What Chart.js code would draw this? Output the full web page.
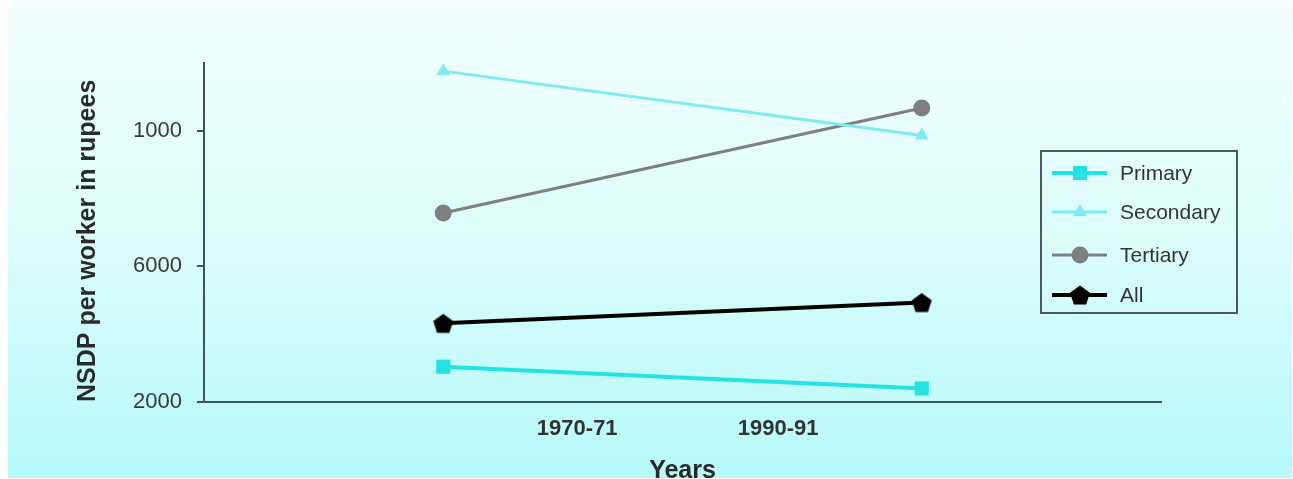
<!DOCTYPE html>
<html>
<head>
<meta charset="utf-8">
<script src="https://cdn.jsdelivr.net/npm/chart.js@4/dist/chart.umd.min.js"></script>
<style>
  html, body { margin: 0; padding: 0; background: #ffffff; }
  #wrap { position: absolute; left: 8px; top: 0; width: 1284px; height: 478px;
          background: linear-gradient(to bottom, #f4ffff 0%, #dcfcfc 50%, #b6fafa 100%); }
  canvas { display: block; }
</style>
</head>
<body>
<div id="wrap"><canvas id="c" width="1284" height="478"></canvas></div>
<script>
// ---- data ----
const categories = ['1970-71', '1990-91'];
const categoryX = [25, 75];            // where the points sit on the x scale
const xTickPositions = [39, 60];       // where the year labels sit on the x scale
const xTickLabels = ['1970-71', '1990-91'];
const yTickValues = [2000, 6000, 10000];
const yTickLabels = ['2000', '6000', '1000'];
const seriesNames = ['Primary', 'Secondary', 'Tertiary', 'All'];
const primary = [3040, 2400];
const secondary = [11760, 9860];
const tertiary = [7575, 10670];
const all = [4320, 4935];

// pentagon marker
function makePentagon(size, color) {
  const c = document.createElement('canvas');
  c.width = size; c.height = size;
  const g = c.getContext('2d');
  const r = size / 2 - 0.5, cx = size / 2, cy = size / 2 + 1;
  g.beginPath();
  for (let i = 0; i < 5; i++) {
    const a = -Math.PI / 2 + i * 2 * Math.PI / 5;
    const px = cx + r * Math.cos(a), py = cy + r * Math.sin(a);
    if (i === 0) g.moveTo(px, py); else g.lineTo(px, py);
  }
  g.closePath();
  g.fillStyle = color; g.fill();
  return c;
}
const pentagon = makePentagon(22, '#000000');

function pts(vals) { return vals.map((v, i) => ({ x: categoryX[i], y: v })); }

const FONT = "'Liberation Sans', Arial, sans-serif";

const legendPlugin = {
  id: 'customLegend',
  afterDraw(chart) {
    const ctx = chart.ctx;
    const box = { x: 1033, y: 151, w: 196, h: 162 };
    ctx.save();
    ctx.strokeStyle = '#4d5a5a';
    ctx.lineWidth = 2;
    ctx.strokeRect(box.x, box.y, box.w, box.h);
    const rows = [173, 212, 255, 295];
    chart.data.datasets.forEach((ds, i) => {
      const y = rows[i];
      ctx.strokeStyle = ds.borderColor;
      ctx.lineWidth = ds.borderWidth;
      ctx.beginPath(); ctx.moveTo(1044, y); ctx.lineTo(1099, y); ctx.stroke();
      const mx = 1072, r = ds.pointRadius;
      ctx.fillStyle = ds.pointBackgroundColor;
      const st = ds.pointStyle;
      if (st === 'rect') {
        const s = Math.SQRT1_2 * r;
        ctx.fillRect(mx - s, y - s, 2 * s, 2 * s);
      } else if (st === 'circle') {
        ctx.beginPath(); ctx.arc(mx, y, r, 0, Math.PI * 2); ctx.fill();
      } else if (st === 'triangle') {
        ctx.beginPath();
        ctx.moveTo(mx, y - r);
        ctx.lineTo(mx + r * 0.866, y + r * 0.5);
        ctx.lineTo(mx - r * 0.866, y + r * 0.5);
        ctx.closePath(); ctx.fill();
      } else if (st && st.width) {
        ctx.drawImage(st, mx - st.width / 2, y - st.height / 2);
      }
      ctx.fillStyle = '#333333';
      ctx.font = '21px ' + FONT;
      ctx.textBaseline = 'middle';
      ctx.textAlign = 'left';
      ctx.fillText(ds.label, 1112, y + 1);
    });
    ctx.restore();
  }
};

new Chart(document.getElementById('c'), {
  type: 'line',
  data: {
    datasets: [
      { label: seriesNames[0], data: pts(primary), borderColor: '#26e3e3', backgroundColor: '#26e3e3',
        pointBackgroundColor: '#26e3e3', pointBorderColor: '#26e3e3', borderWidth: 4,
        pointStyle: 'rect', pointRadius: 10, pointBorderWidth: 0 },
      { label: seriesNames[1], data: pts(secondary), borderColor: '#7eebef', backgroundColor: '#7eebef',
        pointBackgroundColor: '#7eebef', pointBorderColor: '#7eebef', borderWidth: 3,
        pointStyle: 'triangle', pointRadius: 8, pointBorderWidth: 0 },
      { label: seriesNames[2], data: pts(tertiary), borderColor: '#7f7f7f', backgroundColor: '#7f7f7f',
        pointBackgroundColor: '#7f7f7f', pointBorderColor: '#7f7f7f', borderWidth: 3,
        pointStyle: 'circle', pointRadius: 8.5, pointBorderWidth: 0 },
      { label: seriesNames[3], data: pts(all), borderColor: '#000000', backgroundColor: '#000000',
        pointBackgroundColor: '#000000', pointBorderColor: '#000000', borderWidth: 4,
        pointStyle: pentagon, pointRadius: 11, pointBorderWidth: 0 }
    ]
  },
  options: {
    responsive: false,
    animation: false,
    layout: { padding: { top: 63, right: 131, left: 0, bottom: 0 } },
    plugins: { legend: { display: false }, tooltip: { enabled: false } },
    scales: {
      x: {
        type: 'linear', min: 0, max: 100,
        afterFit(s) { s.height = 76; },
        afterBuildTicks(s) { s.ticks = xTickPositions.map(v => ({ value: v })); },
        grid: { display: false, drawTicks: false },
        border: { display: true, color: '#3e5555', width: 2 },
        ticks: { autoSkip: false, maxRotation: 0, padding: 14, color: '#333333',
                 font: { family: FONT, size: 22, weight: 'bold' },
                 callback: (v, i) => xTickLabels[i] },
        title: { display: true, text: 'Years', color: '#2a2a2a',
                 font: { family: FONT, size: 25, weight: 'bold' }, padding: { top: 0, bottom: -8 } }
      },
      y: {
        type: 'linear', min: 2000, max: 12000,
        afterFit(s) { s.width = 196; },
        afterBuildTicks(s) { s.ticks = yTickValues.map(v => ({ value: v })); },
        grid: { drawOnChartArea: false, drawTicks: true, tickLength: 7, color: '#3e5555', lineWidth: 2 },
        border: { display: true, color: '#3e5555', width: 2 },
        ticks: { autoSkip: false, padding: 15, color: '#3a3a3a',
                 font: { family: FONT, size: 22 },
                 callback: (v, i) => yTickLabels[i] },
        title: { display: true, text: 'NSDP per worker in rupees', color: '#2a2a2a', align: 'start',
                 font: { family: FONT, size: 25, weight: 'bold' }, padding: { top: 65, bottom: 0 } }
      }
    }
  },
  plugins: [legendPlugin]
});
</script>
</body>
</html>
